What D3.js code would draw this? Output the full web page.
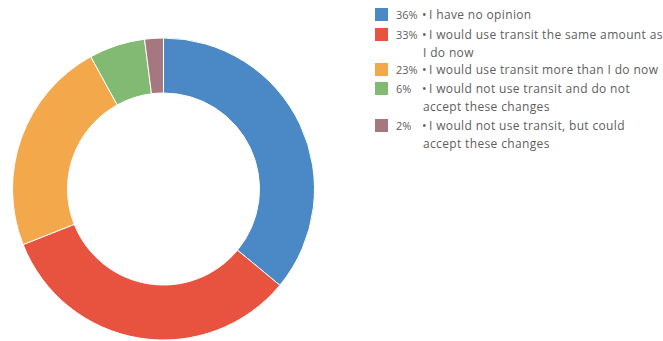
<!DOCTYPE html>
<html><head><meta charset="utf-8">
<script src="https://cdn.jsdelivr.net/npm/d3@7"></script>
<style>body{margin:0;background:#fff;}svg{display:block;}</style>
</head><body>
<script>
const categories = [
  "I have no opinion",
  "I would use transit the same amount as\nI do now",
  "I would use transit more than I do now",
  "I would not use transit and do not\naccept these changes",
  "I would not use transit, but could\naccept these changes"
];
const values = [36, 33, 23, 6, 2];
const pctLabels = ["36%", "33%", "23%", "6%", "2%"];
const colors = ["#4a88c6", "#e8533f", "#f3a84c", "#82ba74", "#a57880"];

const W = 663, H = 341;
const svg = d3.select("body").append("svg").attr("width", W).attr("height", H);

const cx = 163.5, cy = 189, rOuter = 151, rInner = 96;
const pie = d3.pie().value(d => d).sort(null);
const arc = d3.arc().innerRadius(rInner).outerRadius(rOuter);
const color = d3.scaleOrdinal().domain(d3.range(values.length)).range(colors);

svg.append("g").attr("transform", `translate(${cx},${cy})`)
  .selectAll("path").data(pie(values)).join("path")
  .attr("d", arc)
  .attr("fill", (d, i) => color(i))
  .attr("stroke", "#fff").attr("stroke-width", 1);

// legend
const rowY = [15, 35, 70, 89, 126];
const lineH = 18;
const lg = svg.append("g").style("font-family", "'Open Sans', sans-serif").style("font-size", "12px")
  .style("letter-spacing", "0.35px").attr("fill", "#5e5e5e");
categories.forEach((c, i) => {
  const y = rowY[i];
  lg.append("rect").attr("x", 375).attr("y", y - 7).attr("width", 13).attr("height", 13).attr("fill", color(i));
  lg.append("text").attr("x", 396).attr("y", y).attr("dy", "0.35em").style("font-size", "11px").style("letter-spacing", "0px").text(pctLabels[i]);
  lg.append("text").attr("x", 422).attr("y", y).attr("dy", "0.35em").text("\u2022");
  c.split("\n").forEach((line, j) => {
    lg.append("text").attr("x", j === 0 ? 429 : 423).attr("y", y + j * lineH).attr("dy", "0.35em").text(line);
  });
});
</script>
</body></html>
